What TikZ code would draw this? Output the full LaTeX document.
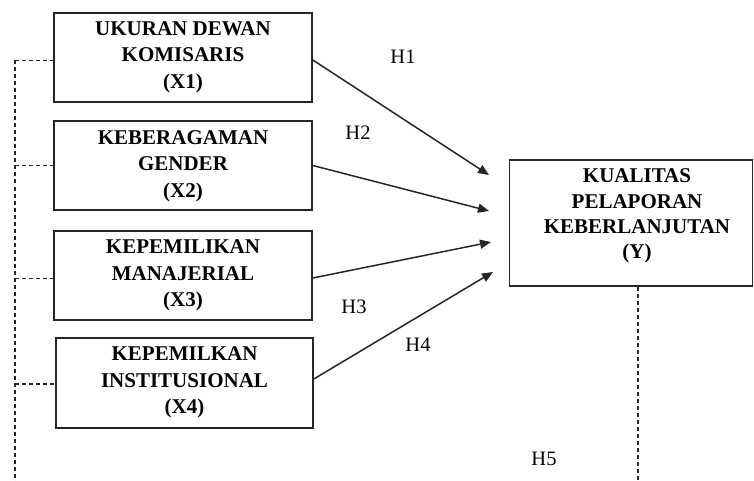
\documentclass[tikz,border=0pt]{standalone}
\usepackage{fontspec}
\setmainfont{Liberation Serif}
\usetikzlibrary{arrows.meta}
\begin{document}
\begin{tikzpicture}[x=1pt,y=-1pt,
  varbox/.style={draw=black!85, line width=1.6pt, minimum width=258pt, minimum height=89pt, inner sep=0pt},
  boxtext/.style={align=center, font=\fontsize{21}{26.5}\selectfont\bfseries, inner sep=0pt},
  ytext/.style={align=center, font=\fontsize{21}{25.3}\selectfont\bfseries, inner sep=0pt},
  hlabel/.style={font=\fontsize{20.5}{24}\selectfont, inner sep=0pt},
  arr/.style={line width=1.5pt, draw=black!85, -{Triangle[length=11pt,width=9pt]}},
  dashline/.style={line width=1.4pt, draw=black!85, dash pattern=on 4pt off 3pt}
]
\useasboundingbox (0,0) rectangle (754,481);
% independent variable boxes
\node[varbox] (X1) at (183,57.5) {};
\node[boxtext] (T1) at (183,57) {UKURAN DEWAN\\KOMISARIS\\(X1)};
\node[varbox] (X2) at (183,165.5) {};
\node[boxtext] (T2) at (183,166) {KEBERAGAMAN\\GENDER\\(X2)};
\node[varbox] (X3) at (183,275.5) {};
\node[boxtext] (T3) at (183,275.5) {KEPEMILIKAN\\MANAJERIAL\\(X3)};
\node[varbox, minimum width=257pt, minimum height=90pt] (X4) at (184.5,383) {};
\node[boxtext] (T4) at (184.5,382.5) {KEPEMILKAN\\INSTITUSIONAL\\(X4)};
% dependent variable box
\node[varbox, minimum width=243pt, minimum height=126pt] (Y) at (631,223) {};
\node[ytext] (TY) at (637,216) {KUALITAS\\PELAPORAN\\KEBERLANJUTAN\\(Y)};
% arrow tips
\coordinate (a1) at (489,175);
\coordinate (a2) at (489,211);
\coordinate (a3) at (491,242);
\coordinate (a4) at (493,272);
\draw[arr] ([yshift=-2.5pt]X1.east) -- (a1);
\draw[arr] (X2.east) -- (a2);
\draw[arr] ([yshift=-2.5pt]X3.east) -- (a3);
\draw[arr] ([yshift=4pt]X4.east) -- (a4);
% labels
\node[hlabel] (H1) at (403,57) {H1};
\node[hlabel] (H2) at (358,133) {H2};
\node[hlabel] (H3) at (354,307) {H3};
\node[hlabel] (H4) at (418,345) {H4};
\node[hlabel] (H5) at (544,459) {H5};
% dashed moderating lines
\coordinate (L1) at (15,60.5);
\coordinate (L2) at (15,165.5);
\coordinate (L3) at (15,278.5);
\coordinate (L4) at (15,384);
\coordinate (Lb) at (15,481);
\coordinate (Yb) at (638,481);
\draw[dashline] (L1) -- (Lb);
\draw[dashline] (L1) -- (L1 -| X1.west);
\draw[dashline] (L2) -- (L2 -| X2.west);
\draw[dashline] (L3) -- (L3 -| X3.west);
\draw[dashline] (L4) -- (L4 -| X4.west);
\draw[dashline] (Y.south -| Yb) -- (Yb);
\end{tikzpicture}
\end{document}
